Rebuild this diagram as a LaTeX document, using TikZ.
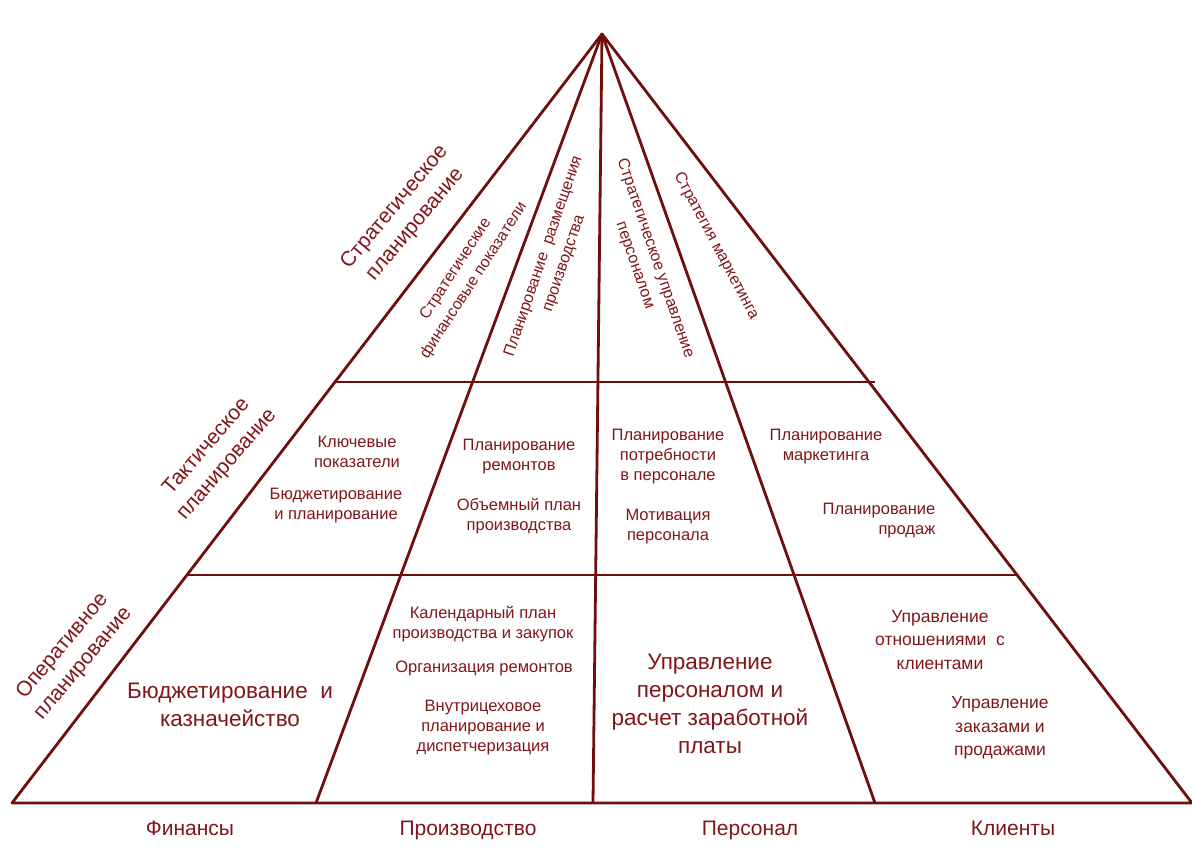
\documentclass[tikz,border=0pt]{standalone}
\usepackage{fontspec}
\setmainfont{Liberation Sans}
\usepackage{tikz}

\definecolor{pyrline}{RGB}{110,14,14}
\definecolor{pyrtext}{RGB}{128,22,26}

\begin{document}
\begin{tikzpicture}[x=1pt,y=1pt,
  edge/.style={draw=pyrline,line width=2.8pt,line join=round},
  lvl/.style={text=pyrtext,align=center,font=\fontsize{21}{27}\selectfont},
  small/.style={text=pyrtext,align=center,font=\fontsize{16.5}{20}\selectfont},
  strat/.style={text=pyrtext,align=center,font=\fontsize{16}{21.5}\selectfont},
  mid/.style={text=pyrtext,align=center,font=\fontsize{17.5}{23.5}\selectfont},
  big/.style={text=pyrtext,align=center,font=\fontsize{22.5}{28}\selectfont},
  area/.style={text=pyrtext,anchor=base,font=\fontsize{21}{25}\selectfont}]
\tikzstyle{every node}+=[inner sep=0pt]
\useasboundingbox (0,0) rectangle (1192,850);
% frame of the pyramid
\coordinate (apex) at (602,816);
\coordinate (bl) at (12,47);
\coordinate (br) at (1192,47);
\coordinate (d1) at (316,47);
\coordinate (d2) at (593,47);
\coordinate (d3) at (875,47);
\coordinate (t1l) at (335,468);
\coordinate (t1r) at (875,468);
\coordinate (t2l) at (187,275);
\coordinate (t2r) at (1017,275);
\draw [edge] (bl) -- (apex) -- (br) -- cycle;
\draw [edge] (apex) -- (d1);
\draw [edge] (apex) -- (d2);
\draw [edge] (apex) -- (d3);
\draw [edge] (t1l) -- (t1r);
\draw [edge] (t2l) -- (t2r);
% levels
\node [lvl,rotate=50] (strategic) at (405,634) {Стратегическое\\планирование};
\node [lvl,rotate=49] (tactical) at (217,394) {Тактическое\\планирование};
\node [lvl,rotate=50] (operative) at (73,195) {Оперативное\\планирование};
% strategic level
\node [strat,rotate=57] (sfin) at (465,575) {Стратегические\\финансовые показатели};
\node [strat,rotate=71] (sprod) at (554,590) {Планирование\ \ размещения\\производства};
\node [strat,rotate=-71] (spers) at (645,588) {Стратегическое управление\\персоналом};
\node [strat,rotate=-62] (smark) at (716,604) {Стратегия маркетинга};
% tactical level
\node [small] (tkey) at (357,398) {Ключевые\\показатели};
\node [small] (tbudget) at (336,344) {Бюджетирование\\и планирование};
\node [small] (trepair) at (519,393) {Планирование\\ремонтов};
\node [small] (tvolume) at (519,334) {Объемный план\\производства};
\node [small] (tneed) at (668,393) {Планирование\\потребности\\в персонале};
\node [small] (tmotiv) at (668,323) {Мотивация\\персонала};
\node [small] (tmark) at (826,403) {Планирование\\маркетинга};
\node [small,align=right] (tsales) at (879,329) {Планирование\\продаж};
% operative level
\node [big] (obudget) at (230,145) {Бюджетирование\ \ и\\казначейство};
\node [small] (ocal) at (483,226) {Календарный план\\производства и закупок};
\node [small] (orepair) at (484,182) {Организация ремонтов};
\node [small] (odisp) at (483,122) {Внутрицеховое\\планирование и\\диспетчеризация};
\node [big] (opers) at (710,146) {Управление\\персоналом и\\расчет заработной\\платы};
\node [mid] (ocrm) at (940,210) {Управление\\отношениями\ \ с\\клиентами};
\node [mid] (oorder) at (1000,122) {Управление\\заказами и\\продажами};
% areas
\node [area] (fin) at (190,14) {Финансы};
\node [area] (prod) at (468,14) {Производство};
\node [area] (pers) at (750,14) {Персонал};
\node [area] (cli) at (1013,14) {Клиенты};
\end{tikzpicture}
\end{document}
